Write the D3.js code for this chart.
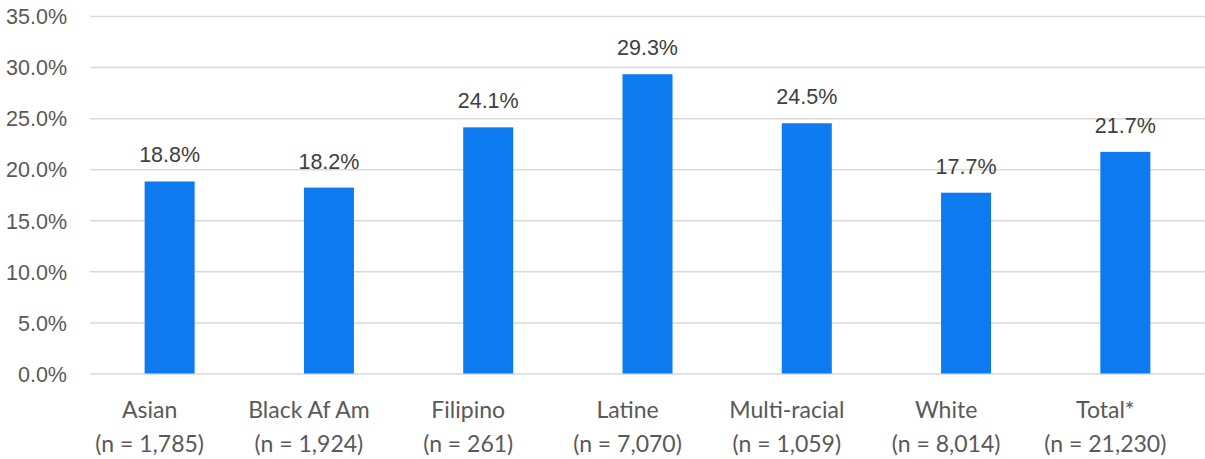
<!DOCTYPE html>
<html>
<head>
<meta charset="utf-8">
<script src="https://cdn.jsdelivr.net/npm/d3@7"></script>
<style>
  html, body { margin: 0; padding: 0; background: #fff; }
  svg { display: block; }
</style>
</head>
<body>
<svg id="chart" width="1205" height="459"></svg>
<script>
// Share of students by group (percent), with group sizes
const groups = ["Asian", "Black Af Am", "Filipino", "Latine", "Multi-racial", "White", "Total*"];
const groupSizes = ["1,785", "1,924", "261", "7,070", "1,059", "8,014", "21,230"];
const shares = [18.8, 18.2, 24.1, 29.3, 24.5, 17.7, 21.7];
const yTicks = [0, 5, 10, 15, 20, 25, 30, 35];

const svg = d3.select("#chart");
const plot = { left: 90, right: 1205, top: 16, bottom: 373.5 };

const x = d3.scaleBand().domain(groups).range([plot.left, plot.right]).padding(0);
const y = d3.scaleLinear().domain([0, 35]).range([plot.bottom, plot.top]);
const barW = x.step() * 0.314;

// Horizontal gridlines and percent labels
const yAxis = d3.axisLeft(y)
  .tickValues(yTicks)
  .tickSize(-(plot.right - plot.left))
  .tickPadding(23)
  .tickFormat(d => d.toFixed(1) + "%");

const gy = svg.append("g")
  .attr("transform", `translate(${plot.left},0)`)
  .call(yAxis);
gy.select(".domain").remove();
gy.selectAll(".tick line").attr("stroke", "#d9d9d9").attr("stroke-width", 1.5);
gy.selectAll(".tick text")
  .attr("fill", "#595959")
  .attr("font-family", "'Liberation Sans', Arial, sans-serif")
  .attr("font-size", 21.5)
  .attr("dy", "0.36em");

// Bars
const rows = groups.map((g, i) => ({ g, n: groupSizes[i], v: shares[i] }));
svg.append("g").selectAll("rect")
  .data(rows)
  .join("rect")
  .attr("x", d => x(d.g) + x.bandwidth() / 2 - barW / 2)
  .attr("width", barW)
  .attr("y", d => y(d.v))
  .attr("height", d => y(0) - y(d.v))
  .attr("fill", "#0e7af0");

// Value labels above bars
svg.append("g").selectAll("text")
  .data(rows)
  .join("text")
  .attr("x", d => x(d.g) + x.bandwidth() / 2)
  .attr("y", d => y(d.v) - 19)
  .attr("text-anchor", "middle")
  .attr("fill", "#404040")
  .attr("font-family", "'Liberation Sans', Arial, sans-serif")
  .attr("font-size", 21.5)
  .text(d => d.v.toFixed(1) + "%");

// Category labels, two lines each
const xAxis = d3.axisBottom(x).tickSize(0).tickFormat("");
const gx = svg.append("g")
  .attr("transform", `translate(0,${plot.bottom})`)
  .call(xAxis);
gx.select(".domain").remove();
gx.selectAll(".tick").each(function(g, i) {
  const t = d3.select(this).append("text")
    .attr("text-anchor", "middle")
    .attr("fill", "#595959")
    .attr("font-family", "Lato, 'Open Sans', sans-serif")
    .attr("font-size", 23);
  t.append("tspan").attr("x", -20).attr("y", 44).text(g);
  t.append("tspan").attr("x", -20).attr("y", 78).text(`(n = ${groupSizes[i]})`);
});
</script>
</body>
</html>
